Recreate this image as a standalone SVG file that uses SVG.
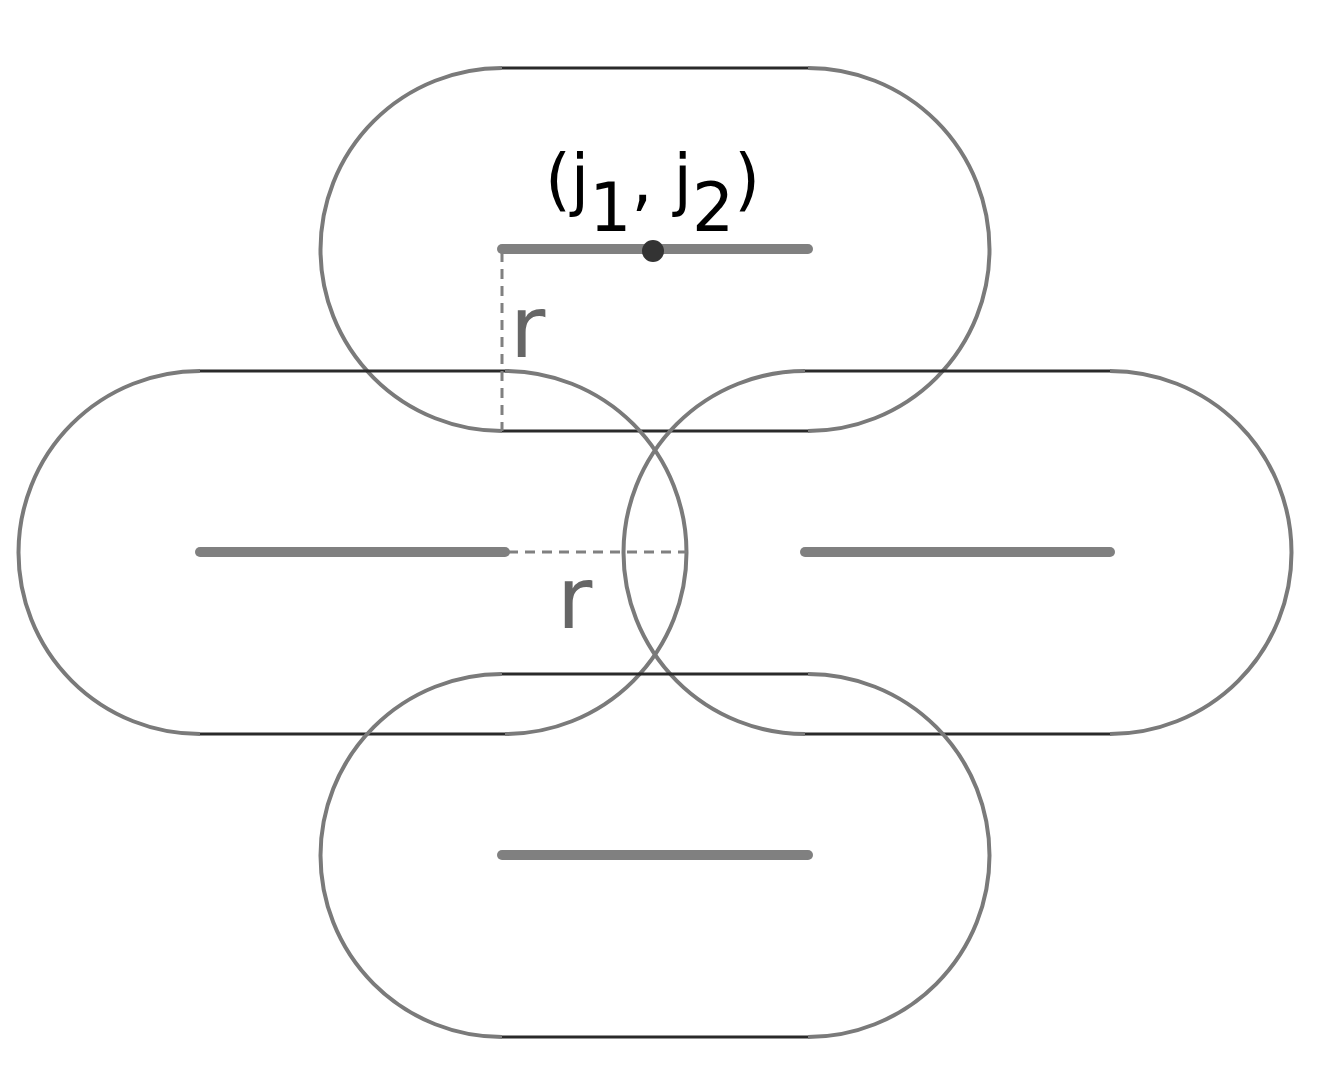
<svg xmlns="http://www.w3.org/2000/svg" width="1317" height="1071" viewBox="0 0 1317 1071">
<style>
.arc{fill:none;stroke:#7a7a7a;stroke-width:4}
.edge{stroke:#2a2a2a;stroke-width:3}
.seg{stroke:#808080;stroke-width:10;stroke-linecap:round}
.dash{stroke:#808080;stroke-width:3;stroke-dasharray:10 7;fill:none}
.lbl{font-family:"DejaVu Sans",sans-serif;fill:#000}
.r{font-family:"DejaVu Sans",sans-serif;fill:#666;font-size:86px}
</style>
<rect width="1317" height="1071" fill="#fff"/>
<g id="top">
<path class="arc" d="M502,68 A100,100 0 0 0 502,431 M808,68 A100,100 0 0 1 808,431"/>
<line class="edge" x1="502" y1="68" x2="808" y2="68"/><line class="edge" x1="502" y1="431" x2="808" y2="431"/>
<line class="seg" x1="502" y1="249" x2="808" y2="249"/>
</g>
<g id="left">
<path class="arc" d="M200,371 A100,100 0 0 0 200,734 M505,371 A100,100 0 0 1 505,734"/>
<line class="edge" x1="200" y1="371" x2="505" y2="371"/><line class="edge" x1="200" y1="734" x2="505" y2="734"/>
<line class="seg" x1="200" y1="552" x2="505" y2="552"/>
</g>
<g id="right">
<path class="arc" d="M805,371 A100,100 0 0 0 805,734 M1110,371 A100,100 0 0 1 1110,734"/>
<line class="edge" x1="805" y1="371" x2="1110" y2="371"/><line class="edge" x1="805" y1="734" x2="1110" y2="734"/>
<line class="seg" x1="805" y1="552" x2="1110" y2="552"/>
</g>
<g id="bottom">
<path class="arc" d="M502,674 A100,100 0 0 0 502,1037 M808,674 A100,100 0 0 1 808,1037"/>
<line class="edge" x1="502" y1="674" x2="808" y2="674"/><line class="edge" x1="502" y1="1037" x2="808" y2="1037"/>
<line class="seg" x1="502" y1="855" x2="808" y2="855"/>
</g>
<g id="connectors">
<line class="dash" x1="502" y1="252" x2="502" y2="431"/>
<line class="dash" x1="508" y1="552" x2="687" y2="552"/>
</g>
<g id="labels">
<circle cx="653" cy="251" r="11" fill="#333"/>
<text class="lbl" x="545" y="203" font-size="68" textLength="215" lengthAdjust="spacingAndGlyphs">(j<tspan dy="28">1</tspan><tspan dy="-28">, j</tspan><tspan dy="28">2</tspan><tspan dy="-28">)</tspan></text>
<text class="r" x="510" y="357">r</text>
<text class="r" x="557" y="628">r</text>
</g>
</svg>
